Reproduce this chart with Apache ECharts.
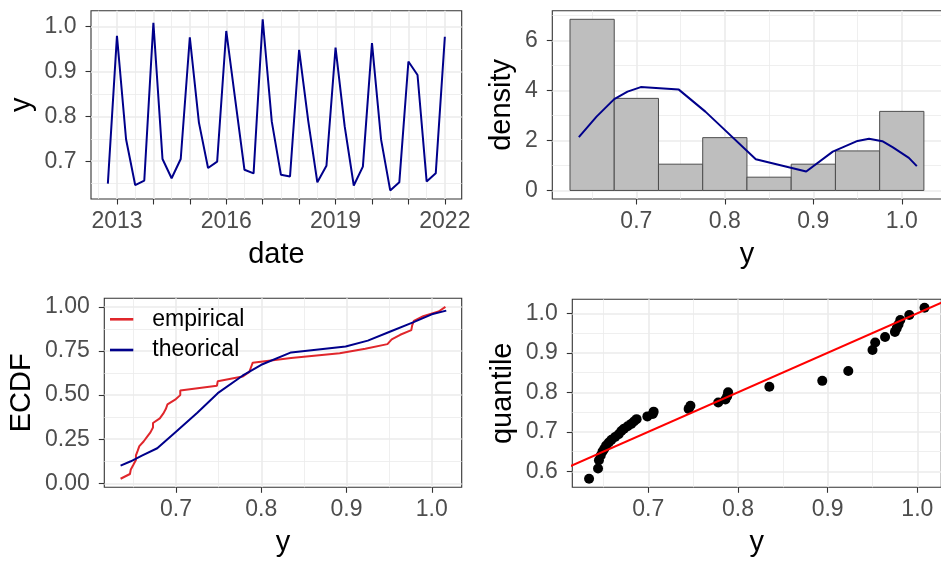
<!DOCTYPE html>
<html>
<head>
<meta charset="utf-8">
<script src="https://cdn.jsdelivr.net/npm/echarts@6/dist/echarts.min.js"></script>
<style>
  html, body { margin: 0; padding: 0; background: #ffffff; }
  #chart { width: 941px; height: 561px; }
</style>
</head>
<body>
<div id="chart"></div>
<script>
// ---- quarterly series ----
const quarterDates = [
  '2012-10', '2013-01', '2013-04', '2013-07', '2013-10', '2014-01', '2014-04', '2014-07', '2014-10',
  '2015-01', '2015-04', '2015-07', '2015-10', '2016-01', '2016-04', '2016-07', '2016-10',
  '2017-01', '2017-04', '2017-07', '2017-10', '2018-01', '2018-04', '2018-07', '2018-10',
  '2019-01', '2019-04', '2019-07', '2019-10', '2020-01', '2020-04', '2020-07', '2020-10',
  '2021-01', '2021-04', '2021-07', '2021-10', '2022-01'
];
const yValues = [
  0.650, 0.979, 0.749, 0.647, 0.657, 1.008, 0.705, 0.662, 0.705,
  0.976, 0.786, 0.685, 0.699, 0.990, 0.835, 0.681, 0.673,
  1.016, 0.788, 0.670, 0.666, 0.948, 0.790, 0.653, 0.690,
  0.953, 0.778, 0.646, 0.688, 0.963, 0.748, 0.635, 0.653,
  0.922, 0.892, 0.655, 0.673, 0.977
];
const yearTicks = [2013, 2014, 2015, 2016, 2017, 2018, 2019, 2020, 2021, 2022];
const yearLabels = [2013, 2016, 2019, 2022];
const yearMinor = [2012.5, 2013.5, 2014.5, 2015.5, 2016.5, 2017.5, 2018.5, 2019.5, 2020.5, 2021.5];

// ---- histogram + density ----
const histBreaks = [0.625, 0.675, 0.725, 0.775, 0.825, 0.875, 0.925, 0.975, 1.025];
const histDensity = [6.84, 3.68, 1.05, 2.11, 0.53, 1.05, 1.58, 3.16];
const densityX = [0.635, 0.655, 0.675, 0.690, 0.705, 0.748, 0.778, 0.790, 0.835, 0.892, 0.922, 0.950, 0.963, 0.978, 0.990, 1.008, 1.017];
const densityY = [2.13, 2.95, 3.65, 3.95, 4.13, 4.03, 3.15, 2.75, 1.25, 0.76, 1.55, 1.98, 2.07, 1.97, 1.72, 1.30, 0.97];

// ---- ECDF ----
const ecdfX = [
  0.635, 0.646, 0.647, 0.650, 0.653, 0.653, 0.655, 0.657, 0.662, 0.666, 0.670, 0.673, 0.673,
  0.681, 0.685, 0.688, 0.690, 0.699, 0.705, 0.705, 0.748, 0.749, 0.778, 0.786, 0.788, 0.790,
  0.835, 0.892, 0.922, 0.948, 0.953, 0.963, 0.976, 0.977, 0.979, 0.990, 1.008, 1.016
];
const ecdfEmpirical = [
  0.026, 0.053, 0.079, 0.105, 0.132, 0.158, 0.184, 0.211, 0.237, 0.263, 0.289, 0.316, 0.342,
  0.368, 0.395, 0.421, 0.447, 0.474, 0.500, 0.526, 0.553, 0.579, 0.605, 0.632, 0.658, 0.684,
  0.711, 0.737, 0.763, 0.789, 0.816, 0.842, 0.868, 0.895, 0.921, 0.947, 0.974, 1.000
];
const theoX = [0.635, 0.647, 0.660, 0.678, 0.700, 0.725, 0.749, 0.778, 0.800, 0.835, 0.899, 0.925, 0.950, 0.978, 1.000, 1.017];
const theoY = [0.100, 0.125, 0.157, 0.199, 0.293, 0.400, 0.511, 0.610, 0.672, 0.742, 0.776, 0.809, 0.858, 0.912, 0.958, 0.979];

// ---- QQ ----
const qqSample = [
  0.634, 0.644, 0.645, 0.647, 0.649, 0.651, 0.653, 0.656, 0.659, 0.663, 0.667, 0.670, 0.673,
  0.677, 0.681, 0.684, 0.687, 0.699, 0.705, 0.706, 0.745, 0.747, 0.778, 0.786, 0.788, 0.789,
  0.835, 0.894, 0.923, 0.950, 0.953, 0.964, 0.975, 0.977, 0.979, 0.981, 0.991, 1.008
];
const qqTheoretical = [
  0.581, 0.607, 0.628, 0.640, 0.650, 0.657, 0.665, 0.673, 0.680, 0.687, 0.694, 0.702, 0.708,
  0.714, 0.720, 0.726, 0.732, 0.739, 0.745, 0.751, 0.758, 0.766, 0.774, 0.782, 0.790, 0.800,
  0.814, 0.829, 0.854, 0.907, 0.926, 0.940, 0.953, 0.962, 0.972, 0.983, 0.996, 1.014
];
const qqRefSlope = 1;
const qqRefIntercept = 0;

// ---- tick values ----
const ticksDecimal = [0.7, 0.8, 0.9, 1.0];
const minorDecimal = [0.65, 0.75, 0.85, 0.95];
const ticksDensity = [0, 2, 4, 6];
const minorDensity = [1, 3, 5, 7];
const ticksEcdf = [0, 0.25, 0.5, 0.75, 1.0];
const minorEcdf = [0.125, 0.375, 0.625, 0.875];
const ticksQuantile = [0.6, 0.7, 0.8, 0.9, 1.0];
const minorQuantile = [0.65, 0.75, 0.85, 0.95];

const FONT = "'Liberation Sans', Arial, Helvetica, sans-serif";
const NAVY = '#00008B';

function toDecimalYear(s) {
  const [y, m] = s.split('-').map(Number);
  return y + (m - 1) / 12;
}

function minorAxis(grid, min, max, vals, position) {
  return {
    type: 'value', gridIndex: grid, min: min, max: max, position: position,
    axisLine: { show: false, onZero: false },
    axisLabel: { show: false },
    axisTick: { show: false, customValues: vals },
    splitLine: { show: true, lineStyle: { color: '#EBEBEB', width: 0.8 } },
    silent: true
  };
}

function mainAxis(grid, min, max, ticks, labels, fmt, name, nameGap, position) {
  return {
    type: 'value', gridIndex: grid, min: min, max: max, position: position,
    axisLine: { show: false, onZero: false },
    axisTick: { show: true, length: 5.5, lineStyle: { color: '#333333', width: 1.1 }, customValues: ticks },
    axisLabel: {
      customValues: labels, formatter: fmt, color: '#4D4D4D', fontSize: 23, fontFamily: FONT,
      margin: position === 'left' ? 14.5 : 11
    },
    splitLine: { show: true, lineStyle: { color: '#EBEBEB', width: 1.6 } },
    name: name, nameLocation: 'middle', nameGap: nameGap,
    nameTextStyle: { fontSize: 29, color: '#000000', fontFamily: FONT },
    silent: true
  };
}

const fmt1 = v => Number(v).toFixed(1);
const fmt2 = v => Number(v).toFixed(2);
const fmtInt = v => String(Math.round(v));

// panel extents
const ext = {
  ts:   { x: [2012.2875, 2022.4625], y: [0.6159, 1.0351] },
  hist: { x: [0.605, 1.045],         y: [-0.342, 7.184] },
  ecdf: { x: [0.6159, 1.0351],       y: [-0.0224, 1.0487] },
  qq:   { x: [0.6153, 1.0267],       y: [0.5594, 1.0356] }
};

const grids = [
  { left: 91,    top: 10.7,  width: 370.7, height: 188.3 },
  { left: 552.3, top: 10.7,  width: 389.3, height: 188.3 },
  { left: 104.3, top: 298.3, width: 357.4, height: 189 },
  { left: 572.3, top: 299.3, width: 369,   height: 188 }
].map(g => Object.assign(g, {
  show: true, borderColor: '#333333', borderWidth: 1.1, backgroundColor: 'transparent',
  containLabel: false, outerBoundsMode: 'none'
}));

// minor axes first (indices 0..3), main axes after (indices 4..7)
const xAxes = [
  minorAxis(0, ext.ts.x[0], ext.ts.x[1], yearMinor, 'bottom'),
  minorAxis(1, ext.hist.x[0], ext.hist.x[1], minorDecimal, 'bottom'),
  minorAxis(2, ext.ecdf.x[0], ext.ecdf.x[1], minorDecimal, 'bottom'),
  minorAxis(3, ext.qq.x[0], ext.qq.x[1], minorDecimal, 'bottom'),
  mainAxis(0, ext.ts.x[0], ext.ts.x[1], yearTicks, yearLabels, fmtInt, 'date', 41, 'bottom'),
  mainAxis(1, ext.hist.x[0], ext.hist.x[1], ticksDecimal, ticksDecimal, fmt1, 'y', 41, 'bottom'),
  mainAxis(2, ext.ecdf.x[0], ext.ecdf.x[1], ticksDecimal, ticksDecimal, fmt1, 'y', 41, 'bottom'),
  mainAxis(3, ext.qq.x[0], ext.qq.x[1], ticksDecimal, ticksDecimal, fmt1, 'y', 41, 'bottom')
];
const yAxes = [
  minorAxis(0, ext.ts.y[0], ext.ts.y[1], minorDecimal, 'left'),
  minorAxis(1, ext.hist.y[0], ext.hist.y[1], minorDensity, 'left'),
  minorAxis(2, ext.ecdf.y[0], ext.ecdf.y[1], minorEcdf, 'left'),
  minorAxis(3, ext.qq.y[0], ext.qq.y[1], minorQuantile, 'left'),
  mainAxis(0, ext.ts.y[0], ext.ts.y[1], ticksDecimal, ticksDecimal, fmt1, 'y', 54.5, 'left'),
  mainAxis(1, ext.hist.y[0], ext.hist.y[1], ticksDensity, ticksDensity, fmtInt, 'density', 36, 'left'),
  mainAxis(2, ext.ecdf.y[0], ext.ecdf.y[1], ticksEcdf, ticksEcdf, fmt2, 'ECDF', 68, 'left'),
  mainAxis(3, ext.qq.y[0], ext.qq.y[1], ticksQuantile, ticksQuantile, fmt1, 'quantile', 55, 'left')
];

const lineBase = { type: 'line', showSymbol: false, symbol: 'none', animation: false, silent: true };

const series = [
  Object.assign({}, lineBase, {
    name: 'series', xAxisIndex: 4, yAxisIndex: 4,
    data: quarterDates.map((d, i) => [toDecimalYear(d), yValues[i]]),
    lineStyle: { color: NAVY, width: 2 }, itemStyle: { color: NAVY }
  }),
  {
    type: 'custom', name: 'histogram', xAxisIndex: 5, yAxisIndex: 5, animation: false, silent: true,
    data: histDensity.map((d, i) => [histBreaks[i], histBreaks[i + 1], d]),
    encode: { x: [0, 1], y: 2 },
    renderItem: function (params, api) {
      const p0 = api.coord([api.value(0), api.value(2)]);
      const p1 = api.coord([api.value(1), 0]);
      return {
        type: 'rect',
        shape: { x: p0[0], y: p0[1], width: p1[0] - p0[0], height: p1[1] - p0[1] },
        style: { fill: '#BEBEBE', stroke: '#4D4D4D', lineWidth: 1 }
      };
    }
  },
  Object.assign({}, lineBase, {
    name: 'density', xAxisIndex: 5, yAxisIndex: 5, z: 3,
    data: densityX.map((x, i) => [x, densityY[i]]),
    lineStyle: { color: NAVY, width: 2 }, itemStyle: { color: NAVY }
  }),
  Object.assign({}, lineBase, {
    name: 'empirical', xAxisIndex: 6, yAxisIndex: 6,
    data: ecdfX.map((x, i) => [x, ecdfEmpirical[i]]),
    color: '#E0262B', lineStyle: { color: '#E0262B', width: 2 }, itemStyle: { color: '#E0262B' }
  }),
  Object.assign({}, lineBase, {
    name: 'theorical', xAxisIndex: 6, yAxisIndex: 6,
    data: theoX.map((x, i) => [x, theoY[i]]),
    color: NAVY, lineStyle: { color: NAVY, width: 2 }, itemStyle: { color: NAVY }
  }),
  {
    type: 'scatter', name: 'qq', xAxisIndex: 7, yAxisIndex: 7, animation: false, silent: true,
    symbolSize: 10, itemStyle: { color: '#000000', opacity: 1 },
    data: qqSample.map((x, i) => [x, qqTheoretical[i]])
  },
  Object.assign({}, lineBase, {
    name: 'reference', xAxisIndex: 7, yAxisIndex: 7, clip: true, z: 3,
    data: [ext.qq.x[0] - 0.02, ext.qq.x[1] + 0.02].map(x => [x, qqRefIntercept + qqRefSlope * x]),
    lineStyle: { color: '#FF0000', width: 2 }, itemStyle: { color: '#FF0000' }
  })
];

const chart = echarts.init(document.getElementById('chart'), null, { renderer: 'canvas' });
chart.setOption({
  backgroundColor: '#ffffff',
  animation: false,
  textStyle: { fontFamily: FONT },
  grid: grids,
  xAxis: xAxes,
  yAxis: yAxes,
  legend: {
    data: ['empirical', 'theorical'],
    orient: 'vertical', left: 110, top: 307.8, padding: 0,
    itemWidth: 23.3, itemHeight: 2.6, itemGap: 7.7, icon: 'rect',
    selectedMode: false,
    textStyle: { fontSize: 23, color: '#000000', fontFamily: FONT, lineHeight: 23, padding: [0, 0, 0, 14] }
  },
  series: series
});
</script>
</body>
</html>
